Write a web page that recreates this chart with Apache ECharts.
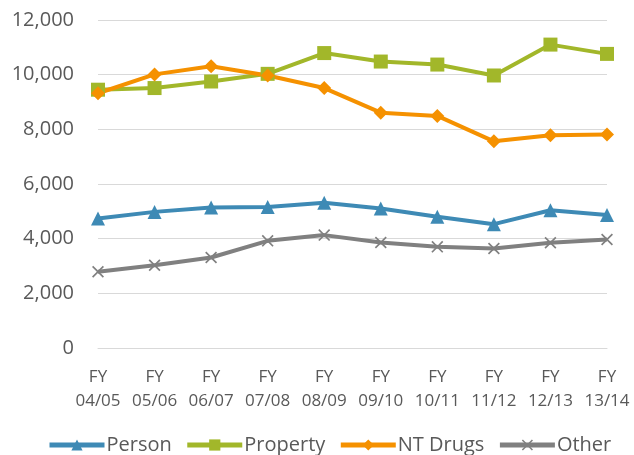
<!DOCTYPE html>
<html>
<head>
<meta charset="utf-8">
<script src="https://cdn.jsdelivr.net/npm/echarts@6/dist/echarts.min.js"></script>
<style>
  html, body { margin: 0; padding: 0; background: #fff; }
  #chart { width: 634px; height: 455px; }
</style>
</head>
<body>
<div id="chart"></div>
<script>
var years = ["FY\n04/05", "FY\n05/06", "FY\n06/07", "FY\n07/08", "FY\n08/09",
  "FY\n09/10", "FY\n10/11", "FY\n11/12", "FY\n12/13", "FY\n13/14"];
var person = [4740, 4980, 5140, 5160, 5310, 5100, 4800, 4530, 5040, 4870];
var property = [9450, 9510, 9750, 10030, 10790, 10480, 10370, 9970, 11100, 10760];
var ntDrugs = [9320, 10010, 10310, 9970, 9510, 8610, 8490, 7560, 7780, 7810];
var other = [2790, 3030, 3310, 3920, 4130, 3860, 3700, 3640, 3850, 3970];

var font = "Open Sans";
// X-shaped marker as a filled outline
var crossPath = "path://M0,1L1,0L5,4L9,0L10,1L6,5L10,9L9,10L5,6L1,10L0,9L4,5Z";

function line(name, data, color, symbol, size) {
  return {
    name: name,
    type: "line",
    data: data,
    symbol: symbol,
    symbolSize: size,
    lineStyle: { color: color, width: 4 },
    itemStyle: { color: color },
    emphasis: { disabled: true }
  };
}

var chart = echarts.init(document.getElementById("chart"));
chart.setOption({
  animation: false,
  textStyle: { fontFamily: font },
  grid: { left: 98, right: 27, top: 20, bottom: 107 },
  legend: {
    top: 430,
    left: 42,
    itemWidth: 55,
    itemHeight: 14,
    itemGap: 13,
    lineStyle: { width: 5 },
    textStyle: { fontSize: 20, color: "#595959", fontFamily: font, padding: [0, 0, 0, -3] },
    data: ["Person", "Property", "NT Drugs", "Other"]
  },
  xAxis: {
    type: "category",
    data: years,
    boundaryGap: false,
    axisLine: { lineStyle: { color: "#D9D9D9" } },
    axisTick: { show: false },
    axisLabel: { color: "#595959", fontSize: 17, lineHeight: 24, margin: 17, interval: 0 }
  },
  yAxis: {
    type: "value",
    min: 0,
    max: 12000,
    interval: 2000,
    axisLine: { show: false },
    axisTick: { show: false },
    splitLine: { lineStyle: { color: "#D9D9D9", width: 1 } },
    axisLabel: {
      color: "#595959",
      fontSize: 20,
      margin: 24,
      formatter: function (v) { return v.toLocaleString("en-US"); }
    }
  },
  series: [
    line("Person", person, "#3E8AB5", "triangle", 14),
    line("Property", property, "#A2B72A", "rect", 14),
    line("NT Drugs", ntDrugs, "#F59100", "diamond", 14),
    line("Other", other, "#808080", crossPath, 12)
  ]
});
</script>
</body>
</html>
